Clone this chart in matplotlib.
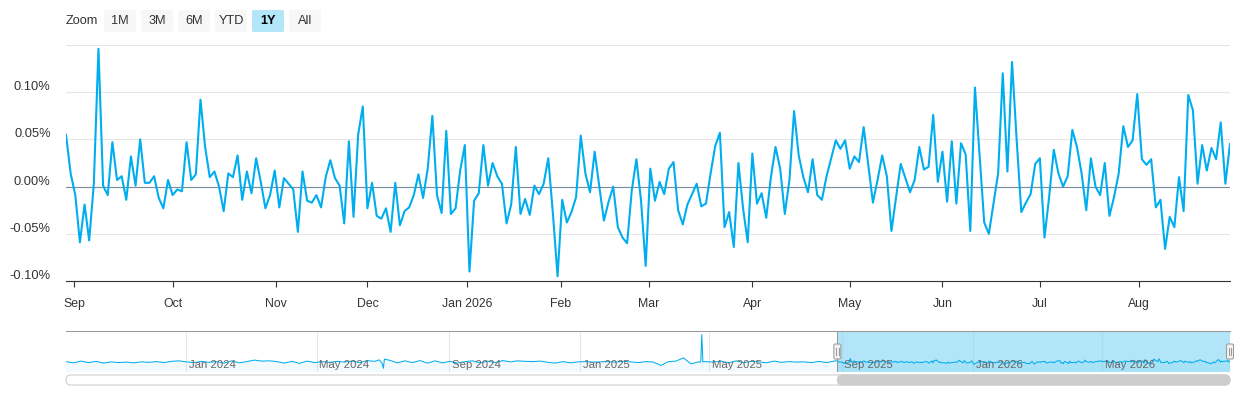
import matplotlib
matplotlib.use("Agg")
import matplotlib.pyplot as plt
import matplotlib.dates as mdates
import numpy as np
import pandas as pd
from matplotlib.patches import FancyBboxPatch
from matplotlib.transforms import IdentityTransform

plt.rcParams['font.family'] = ['Liberation Sans', 'DejaVu Sans']

W, H = 1240, 400
LINE = '#00aeef'
GRID = '#e6e6e6'
TEXT = '#333333'

# daily values of the 1Y window (in %), first trading day 2025-08-28
start_1y = '2025-08-28'
spread_1y = [
    0.055, 0.014, -0.009, -0.059, -0.019, -0.057, 0.003, 0.146, 0.001, -0.009,
    0.047, 0.007, 0.011, -0.014, 0.032, 0.001, 0.050, 0.004, 0.004, 0.011,
    -0.012, -0.023, 0.007, -0.009, -0.003, -0.005, 0.047, 0.007, 0.013, 0.092,
    0.042, 0.010, 0.016, -0.000, -0.026, 0.014, 0.010, 0.033, -0.014, 0.016,
    -0.007, 0.030,
    0.005, -0.023, -0.009, 0.017, -0.022, 0.009, 0.003, -0.003, -0.048, 0.016,
    -0.015, -0.017, -0.009, -0.022, 0.010, 0.028, 0.009, 0.001, -0.039, 0.048,
    -0.032, 0.055, 0.085, -0.023, 0.004, -0.031, -0.034, -0.023, -0.048, 0.004,
    -0.041, -0.026, -0.022, -0.009, 0.013, -0.012, 0.019, 0.075, -0.009, -0.028,
    0.059, -0.029,
    -0.023, 0.017, 0.044, -0.090, -0.015, -0.007, 0.044, 0.001, 0.025, 0.011,
    0.003, -0.039, -0.019, 0.042, -0.029, -0.013, -0.030, 0.001, -0.008, 0.003,
    0.030, -0.029, -0.095, -0.014, -0.038, -0.027, -0.011, 0.054, 0.014, -0.006,
    0.037, -0.000, -0.036, -0.016, -0.000, -0.043, -0.054, -0.060, -0.004, 0.029,
    -0.015, -0.084,
    0.019, -0.015, 0.005, -0.008, 0.019, 0.026, -0.025, -0.040, -0.019, -0.008,
    0.003, -0.021, -0.018, 0.014, 0.043, 0.057, -0.043, -0.027, -0.064, 0.025,
    -0.023, -0.059, 0.035, -0.018, -0.007, -0.033, 0.010, 0.042, 0.019, -0.029,
    0.007, 0.080, 0.033, 0.010, -0.006, 0.029, -0.009, -0.014, 0.011, 0.030,
    0.049, 0.040,
    0.049, 0.019, 0.032, 0.026, 0.063, 0.023, -0.017, 0.007, 0.033, 0.011,
    -0.047, -0.011, 0.024, 0.009, -0.006, 0.007, 0.042, 0.018, 0.021, 0.076,
    0.005, 0.037, -0.016, 0.048, -0.018, 0.046, 0.034, -0.047, 0.105, 0.033,
    -0.038, -0.050, -0.018, 0.014, 0.120, 0.016, 0.132, 0.049, -0.027, -0.017,
    -0.008, 0.024,
    0.030, -0.054, -0.011, 0.039, 0.014, -0.000, 0.011, 0.060, 0.042, 0.014,
    -0.025, 0.030, -0.000, -0.009, 0.025, -0.031, -0.011, 0.014, 0.064, 0.042,
    0.049, 0.098, 0.029, 0.023, 0.029, -0.022, -0.014, -0.066, -0.032, -0.043,
    0.010, -0.026, 0.097, 0.081, 0.003, 0.044, 0.017, 0.041, 0.029, 0.068,
    0.003, 0.045,
]
nyse_holidays = ['2025-09-01', '2025-11-27', '2025-12-25', '2026-01-01', '2026-01-19',
                 '2026-02-16', '2026-04-03', '2026-05-25', '2026-06-19', '2026-07-03']

# older history, only shown in the navigator: weekly values (Mondays) in %
hist_start = '2023-09-11'
hist_weekly = [
    0.02, -0.03, 0.04, -0.02, 0.03, -0.04, 0.01, -0.02, 0.00, -0.03, 0.01, -0.01, 0.02, -0.02, 0.03, 0.05,
    0.01, -0.02, 0.03, -0.01, 0.02, -0.04, 0.05, -0.03, 0.02, 0.08, 0.04, 0.05, 0.02, -0.04, 0.03, -0.05, 0.04, -0.02,
    0.02, -0.01, 0.03, 0.00, 0.04, -0.02, 0.06, 0.03, -0.05, 0.07, -0.03, 0.05, -0.02, 0.06, -0.04, 0.05, -0.03,
    0.03, -0.04, 0.02, 0.05, -0.03, 0.04, -0.02, 0.06, 0.01, 0.05, 0.03, 0.02, 0.04, -0.01, -0.04, 0.02, -0.03, 0.01,
    0.02, 0.00, 0.01, 0.02, 0.00, 0.03, 0.01, -0.02, 0.02, 0.00, -0.13, 0.02, 0.04, 0.17, -0.07, 0.01, 0.02,
    0.00, 0.04, -0.03, 0.05, -0.02, 0.03, 0.01, -0.03, 0.04, -0.01, 0.02, 0.00, 0.01, -0.02, 0.03, -0.02, 0.04,
]
# single days that stand out in the navigator
event_dates = ['2024-06-28', '2024-07-02', '2024-07-03', '2025-04-23', '2025-04-24', '2025-04-25']
event_values = [0.09, -0.25, 0.12, 0.00, 1.10, 0.01]

y_ticks = [-0.10, -0.05, 0.00, 0.05, 0.10, 0.15]
y_labels = ['-0.10%', '-0.05%', '0.00%', '0.05%', '0.10%', '']
month_labels = ['Sep', 'Oct', 'Nov', 'Dec', 'Jan 2026', 'Feb', 'Mar', 'Apr',
                'May', 'Jun', 'Jul', 'Aug']
nav_months = ['2024-01-01', '2024-05-01', '2024-09-01', '2025-01-01',
              '2025-05-01', '2025-09-01', '2026-01-01', '2026-05-01']
nav_labels = ['Jan 2024', 'May 2024', 'Sep 2024', 'Jan 2025',
              'May 2025', 'Sep 2025', 'Jan 2026', 'May 2026']
buttons = ['1M', '3M', '6M', 'YTD', '1Y', 'All']
selected_button = '1Y'


def px_box(x0, y0, x1, y1, r, **kw):
    """Rounded box in pixel coords (y measured from the top)."""
    return FancyBboxPatch((x0, H - y1), x1 - x0, y1 - y0,
                          boxstyle=f'round,pad=0,rounding_size={r}',
                          transform=IdentityTransform(), **kw)


fig = plt.figure(figsize=(W / 100, H / 100), dpi=100)

# ---- main chart (ordinal x axis: one slot per trading day) ----
dates = pd.bdate_range(start_1y, periods=len(spread_1y), freq='C', holidays=nyse_holidays)
idx = np.arange(len(dates))
day_num = (dates - dates[0]).days.values
month_starts = pd.date_range('2025-09-01', periods=len(month_labels), freq='MS')
tick_pos = np.interp((month_starts - dates[0]).days.values, day_num, idx)

ax = fig.add_axes([66 / W, 1 - 281 / H, 1164 / W, 236 / H])
ax.plot(idx, spread_1y, color=LINE, lw=1.5, solid_joinstyle='round', zorder=3)
ax.axhline(0, color='#7a8b9b', lw=0.8, zorder=2)
ax.set_xlim(0, len(idx) - 1)
ax.set_ylim(-0.10, 0.15)
ax.set_yticks(y_ticks)
ax.yaxis.grid(True, color=GRID, lw=0.75)
ax.set_axisbelow(True)
ax.tick_params(axis='y', length=0, labelleft=False)
for v, lab in zip(y_ticks, y_labels):
    ax.annotate(lab, (0, v), xycoords=('axes fraction', 'data'), xytext=(-11, 1.5),
                textcoords='offset points', ha='right', va='baseline',
                fontsize=9.3, color=TEXT)
for s in ['top', 'left', 'right']:
    ax.spines[s].set_visible(False)
ax.spines['bottom'].set_color('#333333')
ax.spines['bottom'].set_linewidth(0.8)
ax.set_xticks(tick_pos, month_labels)
ax.tick_params(axis='x', length=4, width=0.8, color='#333333', pad=8.5,
               labelsize=8.8, labelcolor=TEXT)

# ---- navigator ----
nav_series = pd.concat([
    pd.Series(hist_weekly, index=pd.date_range(hist_start, periods=len(hist_weekly), freq='7D')),
    pd.Series(event_values, index=pd.to_datetime(event_dates)),
    pd.Series(spread_1y, index=dates),
]).sort_index()

nav = fig.add_axes([66 / W, 1 - 371.7 / H, 1164 / W, 40.4 / H])
vmin, vmax = nav_series.min(), nav_series.max()
pad = 0.1 * (vmax - vmin)
nav.set_ylim(vmin - pad, vmax + pad)
nav.set_xlim(nav_series.index[0], nav_series.index[-1])
nav.plot(nav_series.index, nav_series.values, color=LINE, lw=0.75, zorder=3)
nav.fill_between(nav_series.index, nav_series.values, vmin - pad, color=LINE,
                 alpha=0.05, lw=0, zorder=2)
for d, lab in zip(pd.to_datetime(nav_months), nav_labels):
    nav.axvline(d, color=GRID, lw=0.75, zorder=0)
    nav.annotate(lab, (d, 0.17), xycoords=('data', 'axes fraction'), xytext=(2, 0),
                 textcoords='offset points', ha='left', va='center',
                 fontsize=8.2, color='#666666', zorder=4)
sel_start, sel_end = dates[0], dates[-1]
nav.axvspan(sel_start, sel_end, color=(127 / 255, 212 / 255, 243 / 255), alpha=0.6,
            lw=0, zorder=1.5)
nav.axvline(sel_start, color='#999999', lw=0.75, zorder=5)
nav.axvline(sel_end, color='#999999', lw=0.75, zorder=5)
nav.set_xticks([])
nav.set_yticks([])
for s in ['left', 'right', 'bottom']:
    nav.spines[s].set_visible(False)
nav.spines['top'].set_color('#999999')
nav.spines['top'].set_linewidth(0.75)

# handles on the navigator
for d in [sel_start, sel_end]:
    hx = nav.transData.transform((mdates.date2num(d), 0))[0]
    fig.add_artist(px_box(hx - 3.5, 344, hx + 3.5, 359, 1.5, facecolor='#f2f2f2',
                          edgecolor='#999999', lw=0.75, zorder=6))
    for dx in (-1.2, 1.2):
        fig.add_artist(plt.Line2D([hx + dx, hx + dx], [H - 348, H - 355], color='#999999',
                                  lw=0.75, transform=IdentityTransform(), zorder=7))

# scrollbar
x_a = nav.transData.transform((mdates.date2num(sel_start), 0))[0]
x_b = nav.transData.transform((mdates.date2num(sel_end), 0))[0]
fig.add_artist(px_box(66, 375, 1230, 385, 5, facecolor='white', edgecolor='#cccccc', lw=0.75))
fig.add_artist(px_box(x_a, 375, x_b, 385, 5, facecolor='#cccccc', edgecolor='#cccccc', lw=0.75))

# ---- range selector buttons ----
fig.text(66 / W, 1 - 21 / H, 'Zoom', ha='left', va='center', fontsize=9.2, color=TEXT)
for i, lab in enumerate(buttons):
    x0 = 104 + 37 * i
    on = lab == selected_button
    fig.add_artist(px_box(x0, 10, x0 + 32, 32, 2, facecolor='#b3e6f8' if on else '#f7f7f7',
                          edgecolor='none'))
    fig.text((x0 + 16) / W, 1 - 21 / H, lab, ha='center', va='center', fontsize=9.2,
             color='#000000' if on else TEXT, fontweight='bold' if on else 'normal')

fig.savefig('out.png', dpi=100)
